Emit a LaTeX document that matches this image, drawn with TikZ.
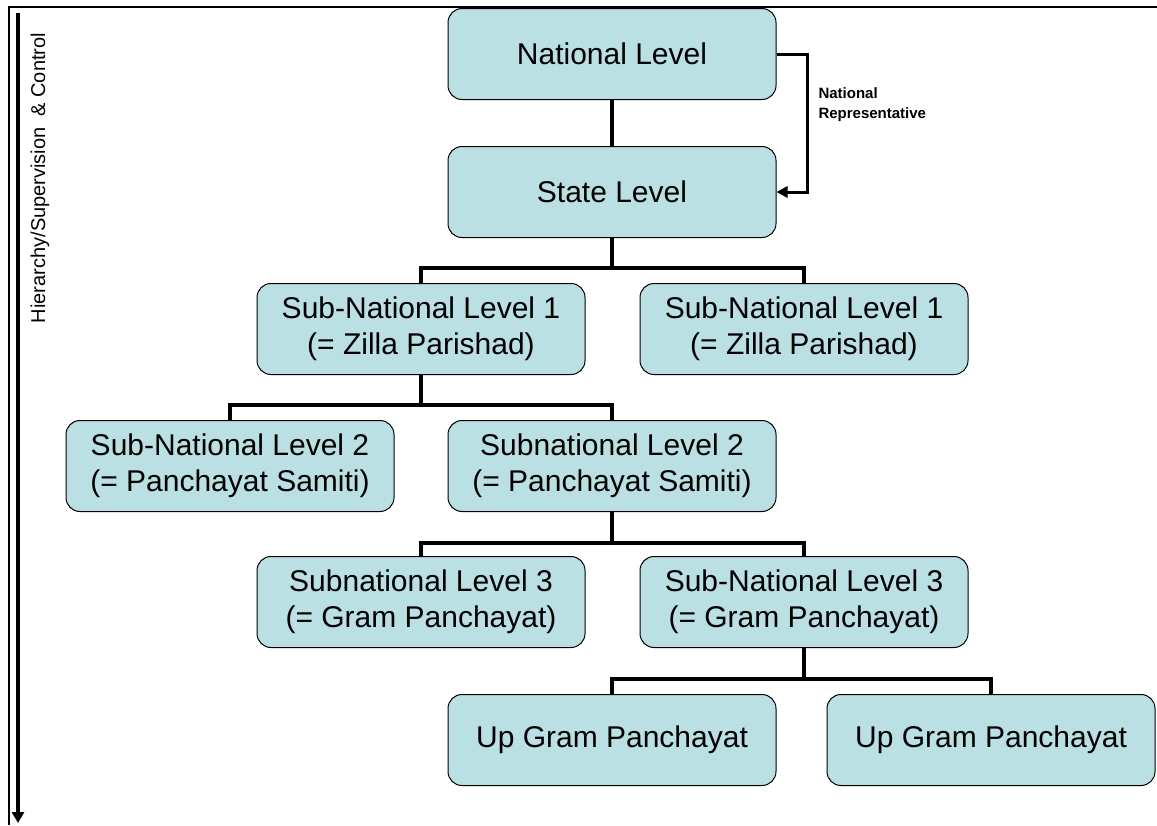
\documentclass[tikz,border=0pt]{standalone}
\usepackage{fontspec}
\setmainfont{Liberation Sans}
\usepackage{xcolor}
\usepackage{tikz}
\usetikzlibrary{arrows.meta}
\definecolor{boxfill}{RGB}{186,224,227}

\begin{document}
\begin{tikzpicture}[x=1pt, y=-1pt,
    level/.style={rectangle, rounded corners=14pt, draw, line width=1pt, fill=boxfill, minimum width=328pt, minimum height=91pt, align=center, font=\fontsize{30}{36}\selectfont},
    link/.style={line width=3.5pt},
    rep/.style={line width=3pt, -{Triangle[length=11pt, width=11pt]}}]

    \useasboundingbox (0,0) rectangle (1157,825);

    % Frame
    \draw[line width=1.5pt] (9,825) -- (9,7) -- (1157,7);

    % Hierarchy arrow on the left
    \coordinate (HTop) at (18,13);
    \coordinate (HBot) at (18,823);
    \draw[line width=3.5pt, -{Triangle[length=11pt, width=12pt]}] (HTop) -- (HBot);
    \node[rotate=90, font=\fontsize{20}{24}\selectfont] (HLabel) at (40,178) {Hierarchy/Supervision \ \& Control};

    % Row 1: National / State
    \node[level] (NAT) at (612,54) {National Level};
    \node[level] (STATE) at (612,192) {State Level};

    % Row 2: Zilla Parishad
    \node[level] (ZP1) at (421,329) {Sub-National Level 1\\(= Zilla Parishad)};
    \node[level] (ZP2) at (804,329) {Sub-National Level 1\\(= Zilla Parishad)};

    % Row 3: Panchayat Samiti
    \node[level] (PS1) at (230,466) {Sub-National Level 2\\(= Panchayat Samiti)};
    \node[level] (PS2) at (612,466) {Subnational Level 2\\(= Panchayat Samiti)};

    % Row 4: Gram Panchayat
    \node[level] (GP1) at (421,602) {Subnational Level 3\\(= Gram Panchayat)};
    \node[level] (GP2) at (804,602) {Sub-National Level 3\\(= Gram Panchayat)};

    % Row 5: Up Gram Panchayat
    \node[level] (UP1) at (612,740) {Up Gram Panchayat};
    \node[level] (UP2) at (991,740) {Up Gram Panchayat};

    % National representative
    \node[anchor=north west, align=left, font=\fontsize{15}{20}\selectfont\bfseries] (REP) at (815,84) {National\\Representative};
    \draw[rep] (NAT.east) -- ++(31,0) |- (STATE.east);

    % Links
    \draw[link] (NAT) -- (STATE);
    \draw[link] (STATE.south) -- ++(0,30) -| (ZP1.north);
    \draw[link] (STATE.south) -- ++(0,30) -| (ZP2.north);
    \draw[link] (ZP1.south) -- ++(0,30) -| (PS1.north);
    \draw[link] (ZP1.south) -- ++(0,30) -| (PS2.north);
    \draw[link] (PS2.south) -- ++(0,31) -| (GP1.north);
    \draw[link] (PS2.south) -- ++(0,31) -| (GP2.north);
    \draw[link] (GP2.south) -- ++(0,31) -| (UP1.north);
    \draw[link] (GP2.south) -- ++(0,31) -| (UP2.north);
\end{tikzpicture}
\end{document}
